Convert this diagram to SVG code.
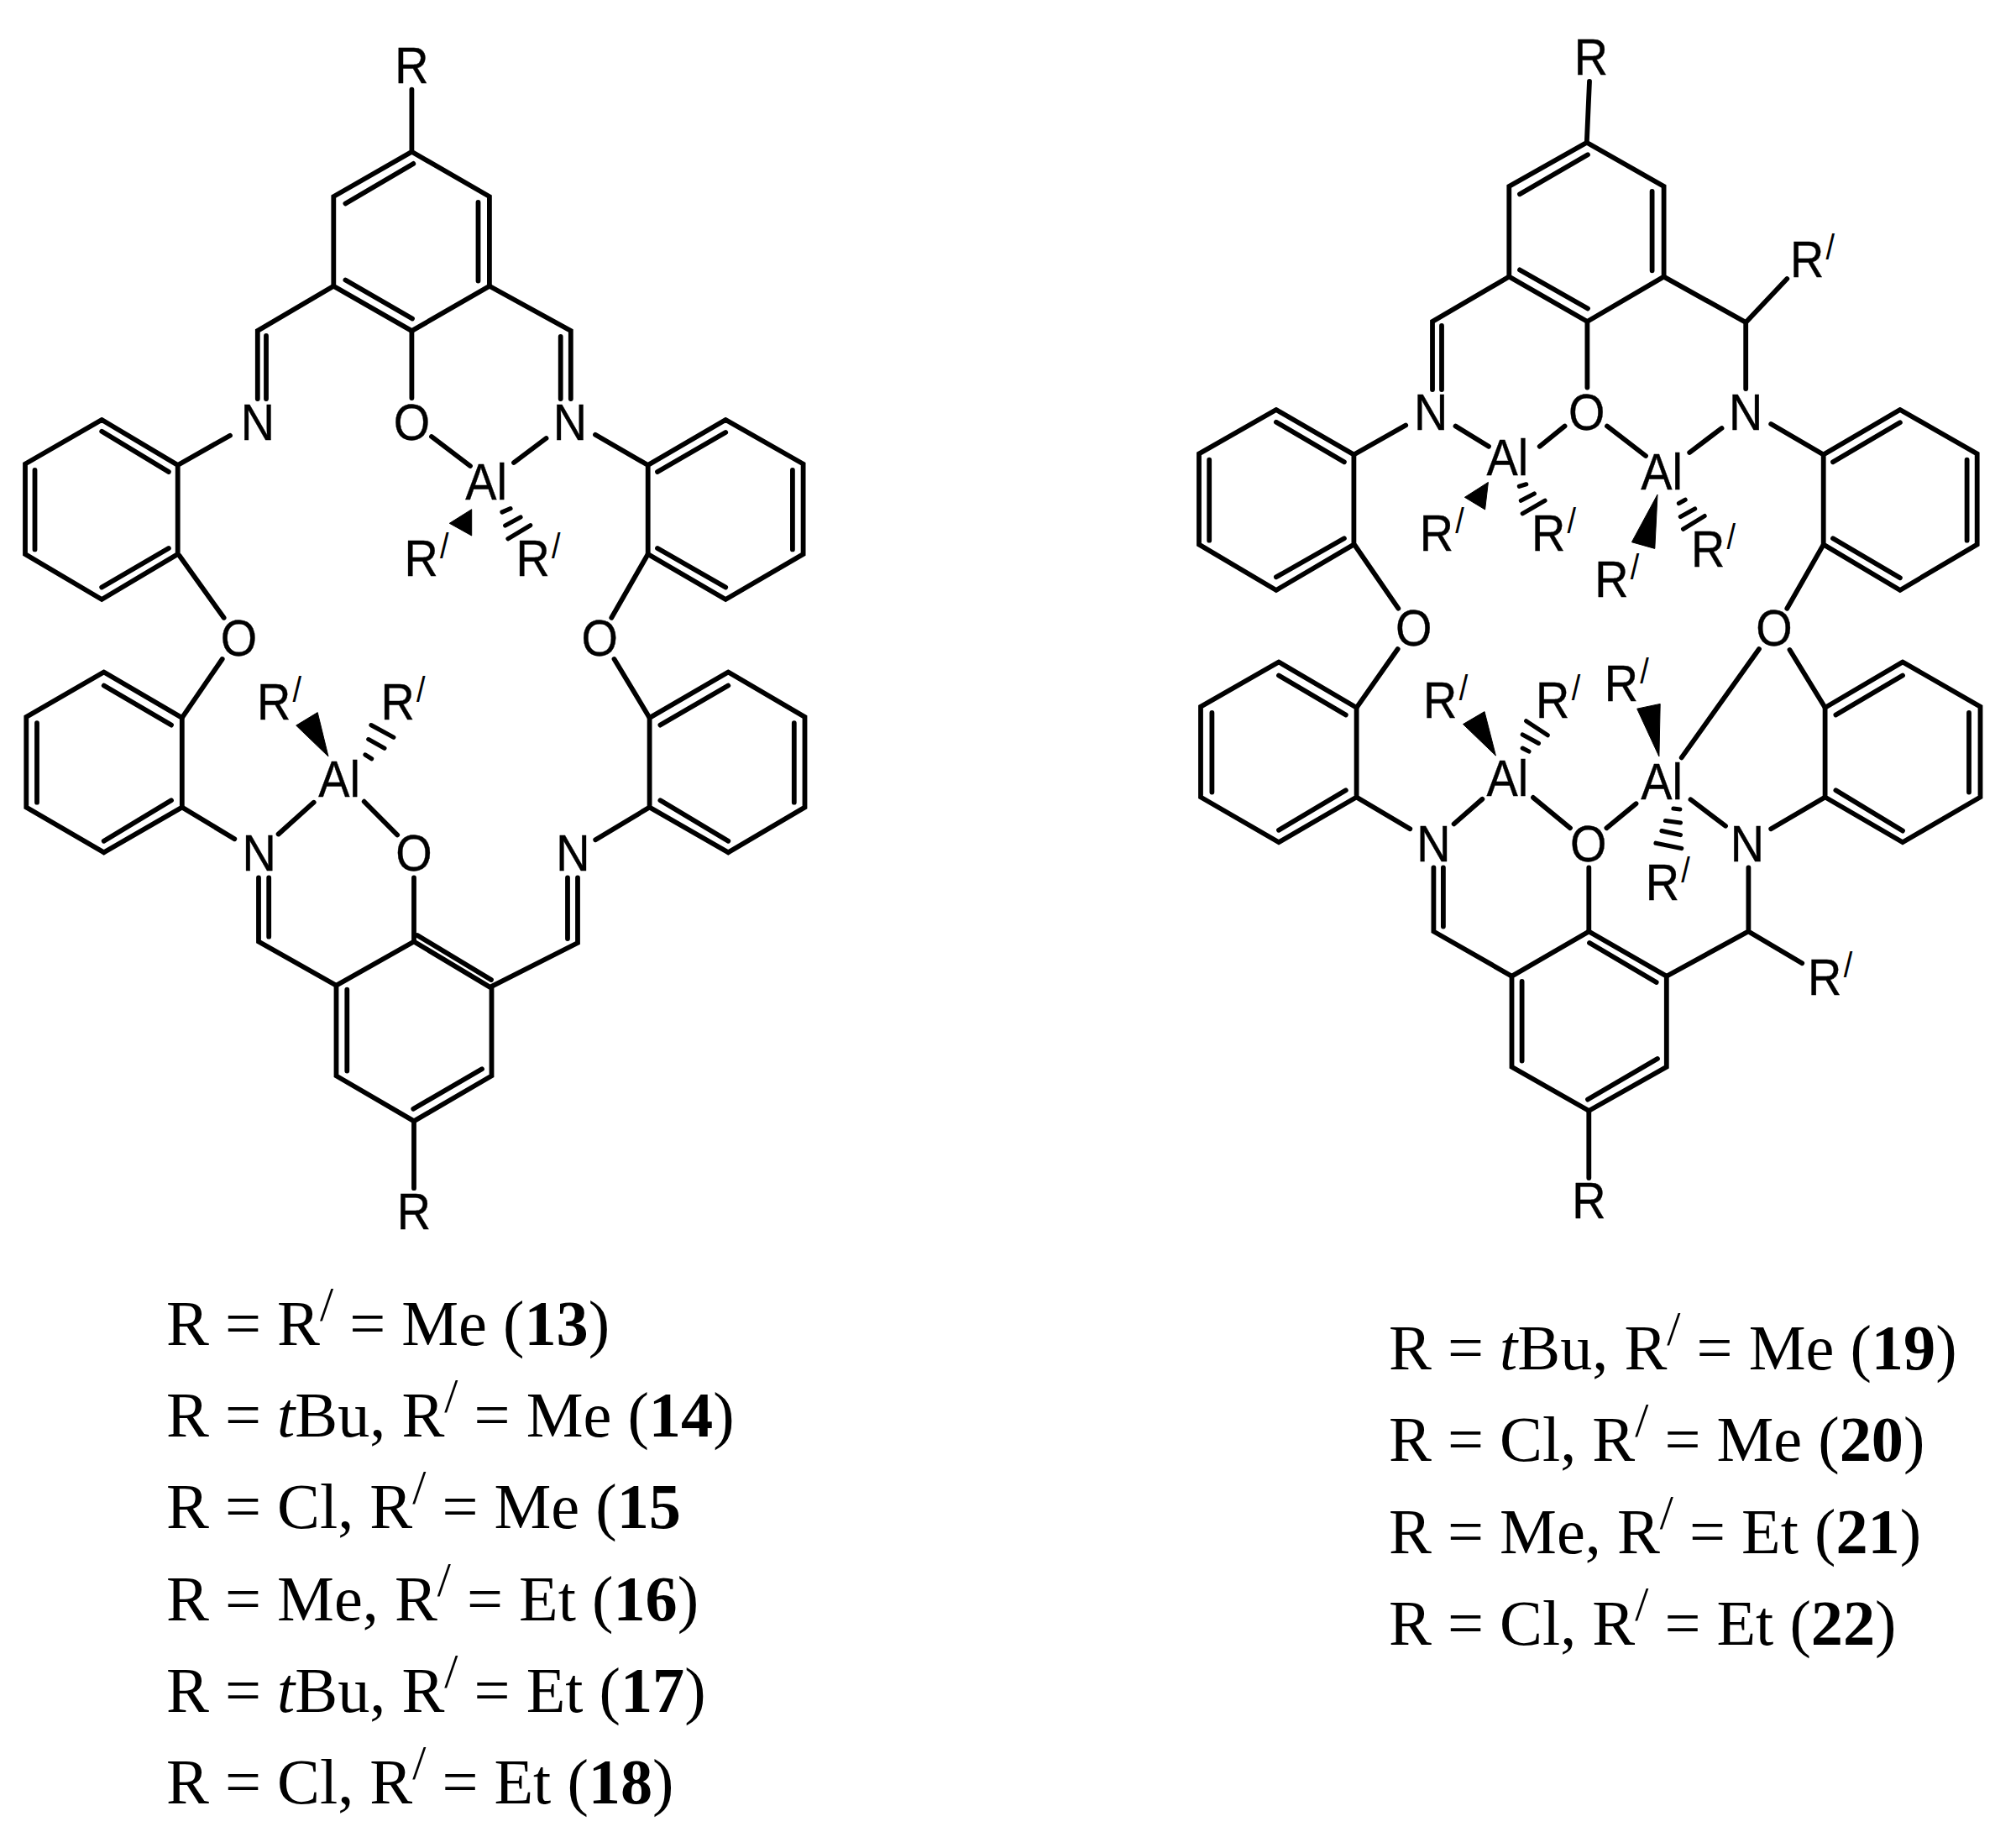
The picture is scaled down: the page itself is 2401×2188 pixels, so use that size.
<svg xmlns="http://www.w3.org/2000/svg" width="2401" height="2188" viewBox="0 0 2401 2188">
<style>
.b path{fill:none;stroke:#000;stroke-width:5.8;stroke-linecap:round;stroke-linejoin:miter}
.b .h{stroke-width:5.2}
.b polygon{fill:#000;stroke:#000;stroke-width:1}
text{fill:#000}
.a{font-family:"Liberation Sans",Arial,sans-serif;font-size:62px;stroke:#000;stroke-width:.4;transform-box:fill-box;transform-origin:0 50%;transform:scaleX(.9)}
.m{text-anchor:middle;transform-origin:50% 50%}
.p{font-size:42px;stroke:none}
.t{font-family:"Liberation Serif","Times New Roman",serif;font-size:76.3px}
.s{font-size:58px}
.n{font-weight:bold}
.i{font-style:italic}
</style>
<rect width="2401" height="2188" fill="#fff"/>
<g id="connectors" class="b">
<g id="bonds-left">
<path d="M490.4 106.6V180.8L397.3 234.1V340.8L490.4 394.1L582.9 340.8V234.1L490.4 180.8"/>
<path d="M492.3 194.9L411.4 242.4M569.5 240.9V334.5M411.4 333.5L491 379.5"/>
<path d="M397.3 340.8L306.8 394V475M317 400V475M582.9 340.8L679.8 394V475M667.7 401V475M490.4 394.1V474"/>
<path d="M514 520L560 555M650.5 522L612 551"/>
<path d="M274 518.7L211.7 554M121.2 500L211.7 554V660L121.2 714L30 660V552.6L121.2 500"/>
<path d="M121.2 513.8L200.9 562M41.5 560V654.4M121.2 699.5L200.9 653M213.6 661.7L266.6 735.8"/>
<path d="M709 517.7L771.7 554M864.2 500L771.7 554V660L864.2 714L956.6 660V552.6L864.2 500"/>
<path d="M783 562L864.2 515M943.9 560V654.4M783 653L864.2 699.5M771.7 660L728.3 735.8"/>
<polygon points="561.7,606.7 535.3,623.3 561.7,638"/>
<path class="h" d="M598 610L608 605.7M601.7 626L620 616M605 641.7L631.7 625.7"/>
<path d="M123.7 800.6L216.8 854.9V961.5L123.7 1015.3L31.3 961.5V853.9L123.7 800.6"/>
<path d="M123.7 816.6L204 863.6M44 861.2V955.7M123.7 1001.8L204 953.3M216.8 854.9L264.7 785M216.8 961.5L279.3 999.3"/>
<path d="M331.6 993.5L373.7 955.7M433.7 954.7L473.2 994.5M493 1045.4V1120.5"/>
<path d="M308 1045.4V1121.5L400.5 1173.8M320.2 1045.4V1115.7"/>
<path d="M493 1121.5L400.5 1173.8V1281.4L493 1335.3L585.5 1281.4V1177L493 1121.5"/>
<path d="M497 1114L585 1167M413.3 1178.7V1275.6M492.3 1320.7L574 1273.2M493 1335.3V1415.2"/>
<path d="M585.5 1174.8L688 1123V1045.4M676 1045.4V1118M709.2 1000.3L773.6 961.5"/>
<path d="M867.3 800.6L773.6 854.9V961.5L867.3 1015.3L958.5 961.5V853.9L867.3 800.6"/>
<path d="M786.4 863.6L867.3 816.6M945.8 861.2V955.7M786.4 953.3L867.3 1001.8M773.6 854.9L731.5 785"/>
<polygon points="378.2,848.6 352.7,864.1 391,901"/>
<path class="h" d="M435 899L442.6 903.8M438.8 880.6L457.9 891.2M442 863.6L468.8 878.2"/>
</g>
<g id="bonds-right">
<path d="M1893 97L1889.8 169.7L1797.3 222V329.6L1890.4 383L1981.6 329.6V222L1889.8 169.7"/>
<path d="M1891 184.2L1810 231.2M1967.6 227.8V322.3M1810 321.4L1891 367.4"/>
<path d="M1797.3 329.6L1706 383V464M1717 388V464M1890.4 383V461.5"/>
<path d="M1981.6 329.6L2079.2 384V463M2079.2 384L2128.3 332"/>
<path d="M1519.9 488L1612.4 541.5V648.6L1519.9 702.9L1428 648.6V540.5L1519.9 488"/>
<path d="M1519.9 502.7L1600.9 550.2M1440.2 547.7V643.7M1519.9 687.3L1600.9 641.3M1674.2 506.5L1612.4 541.5M1613.6 649.5L1665.3 724.7"/>
<path d="M1733.5 507.5L1773 531.7M1833.7 531.7L1863.6 507.5M1914 507.5L1960 543M2012.2 539L2050.5 510M2109.2 505L2171.7 541.5"/>
<path d="M2262.9 488L2171.7 541.5V648.6L2262.9 702.9L2354.7 648.6V540.5L2262.9 488"/>
<path d="M2183 550.2L2262.9 503.2M2342.6 547.7V643.7M2183 641.3L2262.9 688.3M2171.7 648.6L2128.3 724.7"/>
<polygon points="1772.4,574.4 1744.4,592.3 1768.6,606.9"/>
<polygon points="1974,589 1943.4,645.7 1970.8,653.4"/>
<path class="h" d="M1809.4 579.3L1817.7 576.8M1811.4 596.2L1827.3 588M1813.3 611.7L1840 596.2"/>
<path class="h" d="M1999.5 599.6L2007.1 595.2M2001.4 615.6L2018.6 606M2004.6 630.2L2030.1 614.6"/>
<path d="M1523 788.5L1615.6 842.8V949.4L1523 1003.2L1430 949.4V841.8L1523 788.5"/>
<path d="M1523 804.5L1602.8 851.5M1443.4 849V943.6M1523 988.7L1602.8 941.2M1615.6 842.8L1664.7 773M1615.6 949.4L1679.3 987.2"/>
<path d="M1731.6 981.4L1765.4 951.8M1826 949.9L1870 986.2M1913.4 986.2L1948.5 957.2M2013.5 952.3L2055 983.8M2109.2 987.2L2173.6 949.4"/>
<path d="M2266 788.5L2173.6 842.8V949.4L2266 1003.2L2358.5 949.4V841.8L2266 788.5"/>
<path d="M2186.4 851.5L2266 804.5M2345 849V943.6M2186.4 941.2L2266 989.6M2173.6 842.8L2131.5 774M2095 773L2002.7 902.4"/>
<path d="M1707.4 1033.3V1109.4L1800.5 1162.7M1718.9 1033.3V1103.5"/>
<path d="M1892.3 1109.4L1800.5 1162.7V1270.8L1892.3 1323L1984.8 1270.8V1162.7L1892.3 1109.4"/>
<path d="M1893 1123L1972.7 1170M1812.6 1169V1263.5M1891 1309.6L1974 1261M1892.3 1033.3V1109.4"/>
<path d="M2082.4 1033.3V1109.4L1984.8 1162.7M2082.4 1109.4L2146.2 1147.2M1892.3 1323V1403"/>
<polygon points="1768,847.6 1742.5,862.6 1781.4,900"/>
<polygon points="1977.2,838.4 1949.7,844.2 1975.9,901"/>
<path class="h" d="M1813.3 891.2L1820.9 895M1813.3 875L1832.4 885.4M1817.7 858.8L1843.2 875.7"/>
<path class="h" d="M1993 963L2000.8 964M1983.5 977.5L2001.4 980M1979 989.6L2001.4 994.5M1972 1004.2L2002.7 1010.5"/>
</g>
</g>
<g id="atoms-left">
<g id="l-r1"><text class="a m" x="490.4" y="99">R</text></g>
<g id="l-n1"><text class="a m" x="307" y="524.5">N</text></g>
<g id="l-o1"><text class="a m" x="490.4" y="524">O</text></g>
<g id="l-n2"><text class="a m" x="679" y="524.5">N</text></g>
<g id="l-al1"><text class="a m" x="579" y="595">Al</text></g>
<g id="l-rp1"><text class="a" x="481.4" y="686.5">R<tspan class="p" dy="-21" dx="2.5">/</tspan></text></g>
<g id="l-rp2"><text class="a" x="614.5" y="686.5">R<tspan class="p" dy="-21" dx="2.5">/</tspan></text></g>
<g id="l-o2"><text class="a m" x="284.4" y="781">O</text></g>
<g id="l-o3"><text class="a m" x="714.3" y="781">O</text></g>
<g id="l-rp3"><text class="a" x="306" y="857">R<tspan class="p" dy="-21" dx="2.5">/</tspan></text></g>
<g id="l-rp4"><text class="a" x="453.4" y="857">R<tspan class="p" dy="-21" dx="2.5">/</tspan></text></g>
<g id="l-al2"><text class="a m" x="404" y="949">Al</text></g>
<g id="l-n3"><text class="a m" x="308.7" y="1037">N</text></g>
<g id="l-o4"><text class="a m" x="493" y="1037">O</text></g>
<g id="l-n4"><text class="a m" x="682.4" y="1037">N</text></g>
<g id="l-r2"><text class="a m" x="493" y="1464">R</text></g>
</g>
<g id="atoms-right">
<g id="r-r1"><text class="a m" x="1894.9" y="89">R</text></g>
<g id="r-rp1"><text class="a" x="2132" y="330">R<tspan class="p" dy="-21" dx="2.5">/</tspan></text></g>
<g id="r-n1"><text class="a m" x="1704.2" y="512">N</text></g>
<g id="r-o1"><text class="a m" x="1889.8" y="512">O</text></g>
<g id="r-n2"><text class="a m" x="2079.2" y="512">N</text></g>
<g id="r-al1"><text class="a m" x="1795.4" y="566">Al</text></g>
<g id="r-al2"><text class="a m" x="1979" y="583.5">Al</text></g>
<g id="r-rp2"><text class="a" x="1690.7" y="656">R<tspan class="p" dy="-21" dx="2.5">/</tspan></text></g>
<g id="r-rp3"><text class="a" x="1824" y="656">R<tspan class="p" dy="-21" dx="2.5">/</tspan></text></g>
<g id="r-rp4"><text class="a" x="1899.2" y="711.5">R<tspan class="p" dy="-21" dx="2.5">/</tspan></text></g>
<g id="r-rp5"><text class="a" x="2014" y="675.5">R<tspan class="p" dy="-21" dx="2.5">/</tspan></text></g>
<g id="r-o2"><text class="a m" x="1683.8" y="769">O</text></g>
<g id="r-o3"><text class="a m" x="2113" y="769">O</text></g>
<g id="r-rp6"><text class="a" x="1695.1" y="855.5">R<tspan class="p" dy="-21" dx="2.5">/</tspan></text></g>
<g id="r-rp7"><text class="a" x="1829.1" y="855.5">R<tspan class="p" dy="-21" dx="2.5">/</tspan></text></g>
<g id="r-rp8"><text class="a" x="1910.7" y="835.5">R<tspan class="p" dy="-21" dx="2.5">/</tspan></text></g>
<g id="r-al3"><text class="a m" x="1795.4" y="948">Al</text></g>
<g id="r-al4"><text class="a m" x="1979" y="952">Al</text></g>
<g id="r-n3"><text class="a m" x="1707.4" y="1026.5">N</text></g>
<g id="r-o4"><text class="a m" x="1891.7" y="1026.5">O</text></g>
<g id="r-n4"><text class="a m" x="2081" y="1026.5">N</text></g>
<g id="r-rp9"><text class="a" x="1959.8" y="1072.5">R<tspan class="p" dy="-21" dx="2.5">/</tspan></text></g>
<g id="r-rp10"><text class="a" x="2153.1" y="1185">R<tspan class="p" dy="-21" dx="2.5">/</tspan></text></g>
<g id="r-r2"><text class="a m" x="1892.3" y="1451.5">R</text></g>
</g>
<g id="legend-left">
<text class="t" x="198" y="1602">R = R<tspan class="s" dy="-29">/</tspan><tspan dy="29"> = Me (</tspan><tspan class="n">13</tspan>)</text>
<text class="t" x="198" y="1711">R = <tspan class="i">t</tspan>Bu, R<tspan class="s" dy="-29">/</tspan><tspan dy="29"> = Me (</tspan><tspan class="n">14</tspan>)</text>
<text class="t" x="198" y="1820">R = Cl, R<tspan class="s" dy="-29">/</tspan><tspan dy="29"> = Me (</tspan><tspan class="n">15</tspan></text>
<text class="t" x="198" y="1929.5">R = Me, R<tspan class="s" dy="-29">/</tspan><tspan dy="29"> = Et (</tspan><tspan class="n">16</tspan>)</text>
<text class="t" x="198" y="2038.5">R = <tspan class="i">t</tspan>Bu, R<tspan class="s" dy="-29">/</tspan><tspan dy="29"> = Et (</tspan><tspan class="n">17</tspan>)</text>
<text class="t" x="198" y="2147.5">R = Cl, R<tspan class="s" dy="-29">/</tspan><tspan dy="29"> = Et (</tspan><tspan class="n">18</tspan>)</text>
</g>
<g id="legend-right">
<text class="t" x="1654" y="1630.5">R = <tspan class="i">t</tspan>Bu, R<tspan class="s" dy="-29">/</tspan><tspan dy="29"> = Me (</tspan><tspan class="n">19</tspan>)</text>
<text class="t" x="1654" y="1740">R = Cl, R<tspan class="s" dy="-29">/</tspan><tspan dy="29"> = Me (</tspan><tspan class="n">20</tspan>)</text>
<text class="t" x="1654" y="1849.5">R = Me, R<tspan class="s" dy="-29">/</tspan><tspan dy="29"> = Et (</tspan><tspan class="n">21</tspan>)</text>
<text class="t" x="1654" y="1959">R = Cl, R<tspan class="s" dy="-29">/</tspan><tspan dy="29"> = Et (</tspan><tspan class="n">22</tspan>)</text>
</g>
</svg>
